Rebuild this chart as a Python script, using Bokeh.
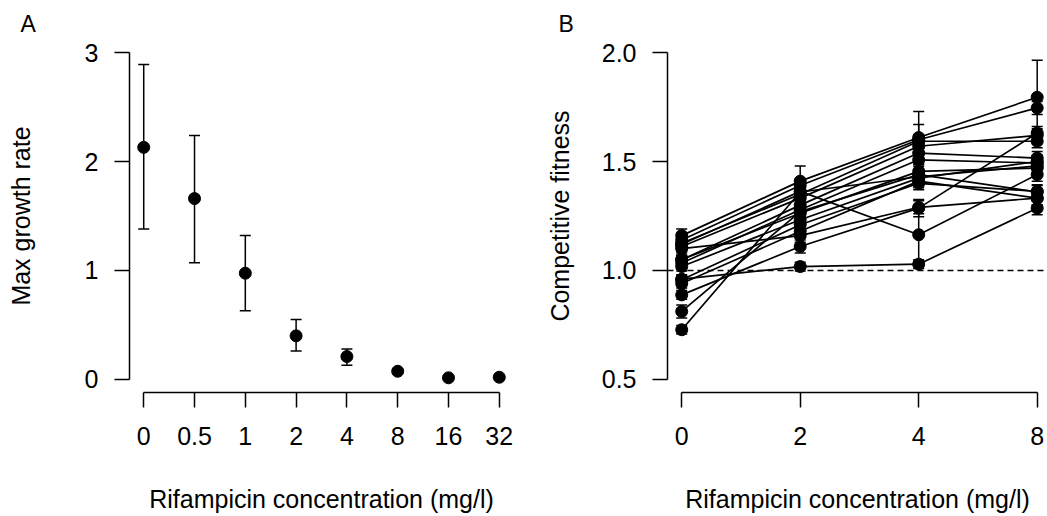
from bokeh.plotting import figure
from bokeh.layouts import row
from bokeh.models import (ColumnDataSource, Whisker, TeeHead, FixedTicker, Range1d,
                          Span, PrintfTickFormatter, Title)
from bokeh.embed import file_html
from bokeh.resources import INLINE

# ---------------- Panel A data ----------------
conc_a = ["0", "0.5", "1", "2", "4", "8", "16", "32"]
growth_mean = [2.13, 1.66, 0.975, 0.40, 0.21, 0.075, 0.015, 0.02]
growth_lo = [1.38, 1.07, 0.63, 0.26, 0.13, 0.055, 0.008, 0.012]
growth_hi = [2.89, 2.24, 1.32, 0.55, 0.28, 0.095, 0.022, 0.028]

# ---------------- Panel B data ----------------
conc_b = ["0", "2", "4", "8"]
fit_0 = [1.16, 1.14, 1.12, 1.125, 1.11, 1.049, 1.034, 1.05, 1.018, 0.957, 0.94, 0.888, 0.812, 0.728, 0.96, 1.10]
fit_2 = [1.41, 1.39, 1.363, 1.35, 1.332, 1.30, 1.279, 1.263, 1.233, 1.21, 1.18, 1.11, 1.27, 1.36, 1.018, 1.16]
fit_4 = [1.61, 1.60, 1.164, 1.593, 1.57, 1.539, 1.508, 1.455, 1.424, 1.40, 1.41, 1.286, 1.44, 1.43, 1.029, 1.29]
fit_8 = [1.795, 1.746, 1.44, 1.593, 1.62, 1.516, 1.493, 1.47, 1.50, 1.363, 1.332, 1.631, 1.36, 1.48, 1.286, 1.332]
err_0 = [0.03, 0.03, 0.02, 0.02, 0.03, 0.02, 0.02, 0.02, 0.02, 0.02, 0.02, 0.02, 0.03, 0.02, 0.02, 0.03]
err_2 = [0.07, 0.03, 0.03, 0.03, 0.03, 0.03, 0.02, 0.03, 0.02, 0.02, 0.03, 0.03, 0.02, 0.03, 0.02, 0.03]
err_4 = [0.12, 0.07, 0.12, 0.03, 0.03, 0.03, 0.03, 0.03, 0.03, 0.03, 0.03, 0.04, 0.02, 0.03, 0.02, 0.03]
err_8 = [0.17, 0.03, 0.03, 0.03, 0.03, 0.03, 0.03, 0.03, 0.03, 0.03, 0.03, 0.03, 0.03, 0.03, 0.03, 0.03]

FONT = "Liberation Sans"
FS = "25px"
PT = 12
LW = 1.5


def style(p, xbounds, ybounds, ylab_standoff, panel_letter):
    p.xgrid.visible = False
    p.ygrid.visible = False
    p.outline_line_color = None
    for ax in (p.xaxis[0], p.yaxis[0]):
        ax.major_tick_out = 15
        ax.major_tick_in = 0
        ax.minor_tick_out = 0
        ax.minor_tick_in = 0
        ax.axis_line_width = LW
        ax.major_tick_line_width = LW
        ax.axis_line_color = "black"
        ax.major_tick_line_color = "black"
        ax.major_label_text_font = FONT
        ax.major_label_text_font_size = FS
        ax.major_label_text_color = "black"
        ax.axis_label_text_font = FONT
        ax.axis_label_text_font_size = FS
        ax.axis_label_text_font_style = "normal"
        ax.axis_label_text_color = "black"
    p.xaxis[0].bounds = xbounds
    p.yaxis[0].bounds = ybounds
    p.xaxis[0].major_label_standoff = 19
    p.yaxis[0].major_label_standoff = 16
    p.xaxis[0].axis_label_standoff = 37
    p.yaxis[0].axis_label_standoff = ylab_standoff
    p.yaxis[0].major_label_orientation = "horizontal"
    p.title = Title(text=panel_letter, align="left", offset=-109, standoff=5,
                    text_font=FONT, text_font_size="23px", text_font_style="normal",
                    text_color="black")


# ---------------- Panel A ----------------
xa = list(range(1, len(conc_a) + 1))
src_a = ColumnDataSource(dict(x=xa, y=growth_mean, lo=growth_lo, hi=growth_hi))

pA = figure(frame_width=384, frame_height=353, output_backend="svg", toolbar_location=None,
            x_range=Range1d(0.72, 8.28), y_range=Range1d(-0.12, 3.12),
            min_border_left=129, min_border_right=24, min_border_top=39, min_border_bottom=124,
            background_fill_color="white", border_fill_color="white")
pA.add_layout(Whisker(source=src_a, base="x", lower="lo", upper="hi", line_width=LW,
                      line_color="black",
                      lower_head=TeeHead(size=11, line_width=LW, line_color="black"),
                      upper_head=TeeHead(size=11, line_width=LW, line_color="black")))
pA.scatter("x", "y", source=src_a, size=PT, fill_color="black", line_color="black")
pA.xaxis.ticker = FixedTicker(ticks=xa)
pA.xaxis.major_label_overrides = {i: s for i, s in zip(xa, conc_a)}
pA.yaxis.ticker = FixedTicker(ticks=[0, 1, 2, 3])
pA.xaxis.axis_label = "Rifampicin concentration (mg/l)"
pA.yaxis.axis_label = "Max growth rate"
style(pA, (1, 8), (0, 3), 47, "A")

# ---------------- Panel B ----------------
xb = list(range(1, len(conc_b) + 1))
series = list(zip(fit_0, fit_2, fit_4, fit_8))
errs = list(zip(err_0, err_2, err_4, err_8))

pB = figure(frame_width=380, frame_height=353, output_backend="svg", toolbar_location=None,
            x_range=Range1d(0.88, 4 + 0.087), y_range=Range1d(0.44, 2.06),
            min_border_left=130, min_border_right=0, min_border_top=39, min_border_bottom=124,
            background_fill_color="white", border_fill_color="white")
pB.add_layout(Span(location=1.0, dimension="width", line_dash="6 4", line_color="black",
                   line_width=1.3, level="underlay"))
pB.multi_line([xb] * len(series), [list(s) for s in series], line_color="black", line_width=1.7)
bx, by, blo, bhi = [], [], [], []
for s, e in zip(series, errs):
    for xi, yi, ei in zip(xb, s, e):
        bx.append(xi)
        by.append(yi)
        blo.append(yi - ei)
        bhi.append(yi + ei)
src_b = ColumnDataSource(dict(x=bx, y=by, lo=blo, hi=bhi))
pB.add_layout(Whisker(source=src_b, base="x", lower="lo", upper="hi", line_width=LW,
                      line_color="black",
                      lower_head=TeeHead(size=11, line_width=LW, line_color="black"),
                      upper_head=TeeHead(size=11, line_width=LW, line_color="black")))
pB.scatter("x", "y", source=src_b, size=PT, fill_color="black", line_color="black")
pB.xaxis.ticker = FixedTicker(ticks=xb)
pB.xaxis.major_label_overrides = {i: s for i, s in zip(xb, conc_b)}
pB.yaxis.ticker = FixedTicker(ticks=[0.5, 1.0, 1.5, 2.0])
pB.yaxis.formatter = PrintfTickFormatter(format="%.1f")
pB.xaxis.axis_label = "Rifampicin concentration (mg/l)"
pB.yaxis.axis_label = "Competitive fitness"
style(pB, (1, 4), (0.5, 2.0), 25, "B")

layout = row(pA, pB)
open("out.html", "w").write(file_html(layout, INLINE))
